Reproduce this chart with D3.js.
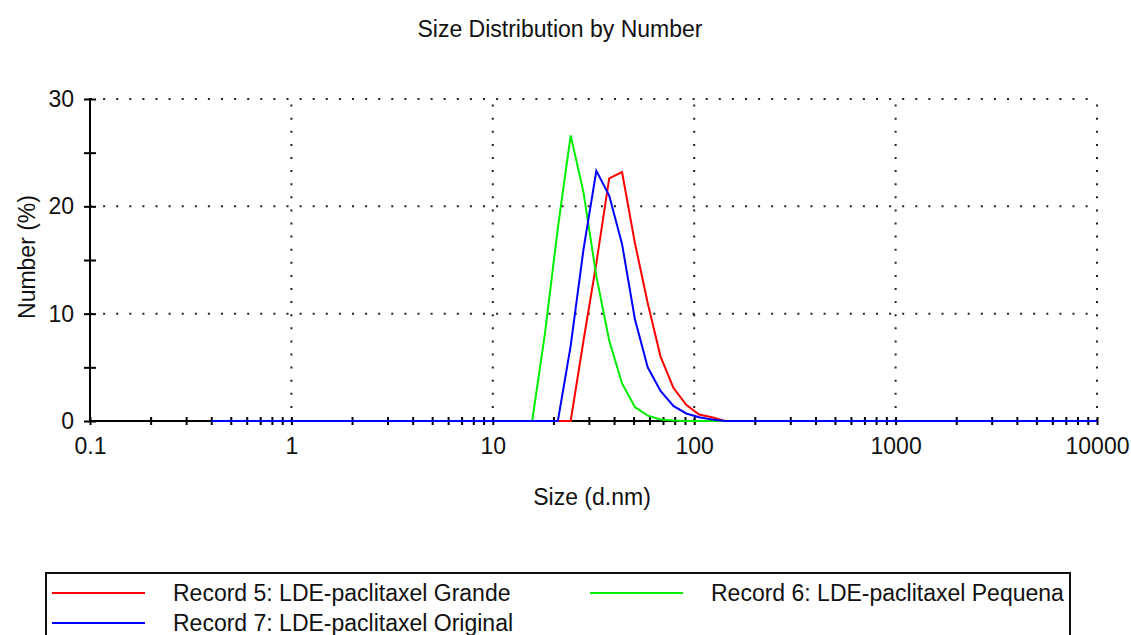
<!DOCTYPE html>
<html>
<head>
<meta charset="utf-8">
<script src="https://cdn.jsdelivr.net/npm/d3@7"></script>
<style>
  html, body { margin: 0; padding: 0; background: #fff; }
  svg { display: block; }
  text { font-family: "Liberation Sans", Arial, sans-serif; fill: #111; }
</style>
</head>
<body>
<svg id="chart" width="1131" height="635"></svg>
<script>
// Size classes (d.nm)
const sizes = [
  0.4, 0.4632, 0.5365, 0.6213, 0.7195, 0.8332, 0.9649, 1.117, 1.294, 1.499,
  1.736, 2.010, 2.328, 2.696, 3.122, 3.615, 4.187, 4.849, 5.615, 6.503,
  7.531, 8.721, 10.10, 11.70, 13.54, 15.69, 18.17, 21.04, 24.36, 28.21,
  32.67, 37.84, 43.82, 50.75, 58.77, 68.06, 78.82, 91.28, 105.7, 122.4,
  141.8, 164.2, 190.1, 220.2, 255.0, 295.3, 342.0, 396.1, 458.7, 531.2,
  615.1, 712.4, 825.0, 955.4, 1106, 1281, 1484, 1718, 1990, 2305,
  2669, 3091, 3580, 4145, 4801, 5560, 6439, 7456, 8635, 10000
];
// Record 5: LDE-paclitaxel Grande (red)
const record5 = [
  0,0,0,0,0,0,0,0,0,0,
  0,0,0,0,0,0,0,0,0,0,
  0,0,0,0,0,0,0,0,0,7.5,
  14.7,22.6,23.2,16.6,11.0,6.0,3.1,1.5,0.6,0.35,
  0,0,0,0,0,0,0,0,0,0,
  0,0,0,0,0,0,0,0,0,0,
  0,0,0,0,0,0,0,0,0,0
];
// Record 6: LDE-paclitaxel Pequena (green)
const record6 = [
  0,0,0,0,0,0,0,0,0,0,
  0,0,0,0,0,0,0,0,0,0,
  0,0,0,0,0,0,8.2,18.0,26.6,21.3,
  13.5,7.5,3.5,1.3,0.5,0.15,0.05,0,0,0,
  0,0,0,0,0,0,0,0,0,0,
  0,0,0,0,0,0,0,0,0,0,
  0,0,0,0,0,0,0,0,0,0
];
// Record 7: LDE-paclitaxel Original (blue)
const record7 = [
  0,0,0,0,0,0,0,0,0,0,
  0,0,0,0,0,0,0,0,0,0,
  0,0,0,0,0,0,0,0,7.0,16.0,
  23.3,21.0,16.5,9.5,5.0,2.8,1.4,0.7,0.35,0.15,
  0,0,0,0,0,0,0,0,0,0,
  0,0,0,0,0,0,0,0,0,0,
  0,0,0,0,0,0,0,0,0,0
];
const seriesNames = [
  "Record 5: LDE-paclitaxel Grande",
  "Record 6: LDE-paclitaxel Pequena",
  "Record 7: LDE-paclitaxel Original"
];
const seriesColors = ["#ff0000", "#00ee00", "#0000ff"];
const seriesValues = [record5, record6, record7];

const xMajorTicks = [0.1, 1, 10, 100, 1000, 10000];
const xTickLabels = ["0.1", "1", "10", "100", "1000", "10000"];
const xGridTicks = [1, 10, 100, 1000, 10000];
const yMajorTicks = [0, 10, 20, 30];
const yMinorTicks = [5, 15, 25];
const yGridTicks = [10, 20, 30];

const titleText = "Size Distribution by Number";
const xLabelText = "Size (d.nm)";
const yLabelText = "Number (%)";

// ---- layout ----
const svg = d3.select("#chart");
const plot = { left: 90, right: 1097, top: 99, bottom: 421 };
const FS = 23;

const x = d3.scaleLog().domain([0.1, 10000]).range([plot.left, plot.right]);
const y = d3.scaleLinear().domain([0, 30]).range([plot.bottom, plot.top]);

// minor x ticks: 2..9 in every decade
const xMinorTicks = [];
[0.1, 1, 10, 100, 1000].forEach(d => { for (let k = 2; k <= 9; k++) xMinorTicks.push(+(d * k).toPrecision(3)); });

// title
svg.append("text").attr("x", 560).attr("y", 29).attr("text-anchor", "middle")
  .attr("dominant-baseline", "central").style("font-size", FS + "px").text(titleText);

// grid
const grid = svg.append("g").attr("stroke", "#222").attr("stroke-width", 2).attr("stroke-dasharray", "2,11.1");
grid.selectAll("line.v").data(xGridTicks).join("line").attr("class", "v")
  .attr("x1", d => x(d)).attr("x2", d => x(d)).attr("y1", plot.bottom).attr("y2", plot.top);
grid.selectAll("line.h").data(yGridTicks).join("line").attr("class", "h")
  .attr("x1", plot.left).attr("x2", plot.right).attr("y1", d => y(d)).attr("y2", d => y(d));

// y axis
const yAxis = svg.append("g").attr("transform", `translate(${plot.left},0)`)
  .call(d3.axisLeft(y).tickValues(yMajorTicks.concat(yMinorTicks)).tickSize(6).tickPadding(10)
    .tickFormat(d => yMajorTicks.includes(d) ? d3.format("d")(d) : ""));
yAxis.select(".domain").remove();
yAxis.selectAll(".tick line").attr("x1", 6).attr("x2", -6).attr("stroke", "#000").attr("stroke-width", 2);
yAxis.selectAll(".tick text").style("font-size", FS + "px").attr("fill", "#111").attr("font-family", null);
yAxis.append("line").attr("x1", 0).attr("x2", 0).attr("y1", plot.top - 1).attr("y2", plot.bottom + 1)
  .attr("stroke", "#000").attr("stroke-width", 2);

// x axis
const xAxis = svg.append("g").attr("transform", `translate(0,${plot.bottom})`)
  .call(d3.axisBottom(x).tickValues(xMajorTicks.concat(xMinorTicks)).tickSize(4).tickPadding(13)
    .tickFormat(d => { const i = xMajorTicks.indexOf(d); return i >= 0 ? xTickLabels[i] : ""; }));
xAxis.select(".domain").remove();
xAxis.selectAll(".tick line").attr("y1", -4).attr("y2", 4).attr("stroke", "#000").attr("stroke-width", 2);
xAxis.selectAll(".tick text").style("font-size", FS + "px").attr("fill", "#111").attr("font-family", null);
xAxis.append("line").attr("x1", plot.left).attr("x2", plot.right).attr("y1", 0).attr("y2", 0)
  .attr("stroke", "#000").attr("stroke-width", 2);

// axis titles
svg.append("text").attr("x", 592).attr("y", 497).attr("text-anchor", "middle")
  .attr("dominant-baseline", "central").style("font-size", FS + "px").text(xLabelText);
svg.append("text").attr("transform", "translate(27,257) rotate(-90)").attr("text-anchor", "middle")
  .attr("dominant-baseline", "central").style("font-size", FS + "px").text(yLabelText);

// series
const line = d3.line().x(d => x(d[0])).y(d => y(d[1]));
seriesValues.forEach((vals, i) => {
  svg.append("path").datum(sizes.map((s, j) => [s, vals[j]]))
    .attr("fill", "none").attr("stroke", seriesColors[i]).attr("stroke-width", 2)
    .attr("stroke-linejoin", "miter").attr("d", line);
});

// legend
const legend = svg.append("g");
legend.append("rect").attr("x", 46).attr("y", 573).attr("width", 1024).attr("height", 80)
  .attr("fill", "none").attr("stroke", "#111").attr("stroke-width", 2);
const legendPos = [[52, 593], [590, 593], [52, 623]];
seriesNames.forEach((name, i) => {
  const [lx, ly] = legendPos[i];
  legend.append("line").attr("x1", lx).attr("x2", lx + 93).attr("y1", ly).attr("y2", ly)
    .attr("stroke", seriesColors[i]).attr("stroke-width", 2);
  legend.append("text").attr("x", lx + 121).attr("y", ly).attr("dominant-baseline", "central")
    .style("font-size", FS + "px").text(name);
});
</script>
</body>
</html>
